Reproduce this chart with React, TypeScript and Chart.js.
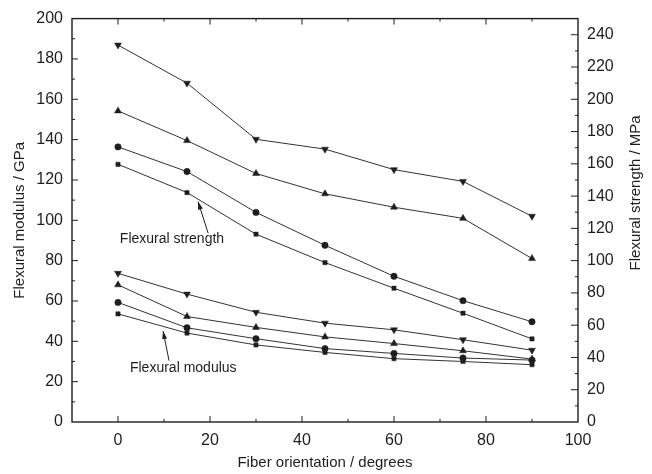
import React, { useEffect, useRef } from 'react';
import { Chart, registerables } from 'chart.js';

Chart.register(...registerables);

// Fiber orientation (degrees)
const orientations = [0, 15, 30, 45, 60, 75, 90];

// Flexural strength (MPa, right axis)
const strengthDown = [233.6, 210.0, 175.2, 169.1, 156.4, 149.1, 127.5];
const strengthUp = [192.8, 174.4, 154.0, 141.4, 133.1, 126.2, 101.3];
const strengthCircle = [170.5, 155.2, 129.9, 109.5, 90.3, 75.2, 62.1];
const strengthSquare = [159.7, 142.2, 116.4, 98.8, 82.9, 67.4, 51.5];

// Flexural modulus (GPa, left axis)
const modulusDown = [73.7, 63.4, 54.4, 49.0, 45.7, 40.8, 35.6];
const modulusUp = [68.0, 52.3, 46.9, 42.2, 38.9, 35.3, 31.2];
const modulusCircle = [59.3, 46.7, 41.3, 36.4, 34.0, 31.7, 30.7];
const modulusSquare = [53.6, 44.1, 38.2, 34.5, 31.4, 30.0, 28.4];

// Tick labels
const xTicks = [0, 20, 40, 60, 80, 100];
const leftTicks = [0, 20, 40, 60, 80, 100, 120, 140, 160, 180, 200];
const rightTicks = [0, 20, 40, 60, 80, 100, 120, 140, 160, 180, 200, 220, 240];

const FONT = '"Liberation Sans", Arial, Helvetica, sans-serif';
const INK = '#1e1e1e';

const toPts = (vals: number[]) => vals.map((v, i) => ({ x: orientations[i], y: v }));

const mk = (label: string, vals: number[], axis: string, style: string, rot = 0, r = 3.5) => ({
  label,
  data: toPts(vals),
  yAxisID: axis,
  borderColor: '#333',
  borderWidth: 1,
  backgroundColor: INK,
  pointBackgroundColor: INK,
  pointBorderColor: INK,
  pointBorderWidth: 0.5,
  pointStyle: style,
  pointRotation: rot,
  pointRadius: r,
  tension: 0,
  fill: false,
});

const frameTicks = {
  id: 'frameTicks',
  afterDraw(chart: any) {
    const { ctx, chartArea: a, scales } = chart;
    const sx = scales.x, sy = scales.y, sy1 = scales.y1;
    const line = (x1: number, y1: number, x2: number, y2: number) => {
      ctx.beginPath();
      ctx.moveTo(x1, y1);
      ctx.lineTo(x2, y2);
      ctx.stroke();
    };
    ctx.save();
    ctx.strokeStyle = INK;
    ctx.lineWidth = 1.4;
    ctx.strokeRect(a.left, a.top, a.right - a.left, a.bottom - a.top);
    ctx.lineWidth = 1;
    for (let v = 0; v < 100; v += 10) {
      const px = sx.getPixelForValue(v);
      const len = v % 20 === 0 ? 6 : 3;
      line(px, a.bottom, px, a.bottom - len);
      line(px, a.top, px, a.top + len);
    }
    for (let v = 10; v < 200; v += 10) {
      const py = sy.getPixelForValue(v);
      const len = v % 20 === 0 ? 6 : 3;
      line(a.left, py, a.left + len, py);
    }
    for (let v = 10; v <= 240; v += 10) {
      const py = sy1.getPixelForValue(v);
      const len = v % 20 === 0 ? 7 : 3;
      line(a.right, py, a.right - len, py);
    }
    // right axis title, reading bottom-to-top
    ctx.fillStyle = INK;
    ctx.font = `15px ${FONT}`;
    ctx.textAlign = 'center';
    ctx.textBaseline = 'middle';
    ctx.translate(636, sy1.getPixelForValue(142));
    ctx.rotate(-Math.PI / 2);
    ctx.fillText('Flexural strength / MPa', 0, 0);
    ctx.restore();
  },
};

const arrow = (ctx: any, x1: number, y1: number, x2: number, y2: number) => {
  ctx.beginPath();
  ctx.moveTo(x1, y1);
  ctx.lineTo(x2, y2);
  ctx.stroke();
  const ang = Math.atan2(y2 - y1, x2 - x1);
  const L = 8, W = 2.5;
  ctx.beginPath();
  ctx.moveTo(x2, y2);
  ctx.lineTo(x2 - L * Math.cos(ang) + W * Math.sin(ang), y2 - L * Math.sin(ang) - W * Math.cos(ang));
  ctx.lineTo(x2 - L * Math.cos(ang) - W * Math.sin(ang), y2 - L * Math.sin(ang) + W * Math.cos(ang));
  ctx.closePath();
  ctx.fill();
};

const annotations = {
  id: 'annotations',
  afterDraw(chart: any) {
    const { ctx, scales } = chart;
    const X = (v: number) => scales.x.getPixelForValue(v);
    const Y = (v: number) => scales.y.getPixelForValue(v);
    ctx.save();
    ctx.fillStyle = INK;
    ctx.strokeStyle = INK;
    ctx.lineWidth = 1;
    ctx.font = `14px ${FONT}`;
    ctx.textAlign = 'left';
    ctx.textBaseline = 'middle';
    ctx.fillText('Flexural strength', X(0.4), Y(90.7));
    ctx.fillText('Flexural modulus', X(2.6), Y(26.5));
    arrow(ctx, X(19.6), Y(93.6), X(17.4), Y(109.3));
    arrow(ctx, X(11.1), Y(30.4), X(9.8), Y(45.1));
    ctx.restore();
  },
};

export default function App() {
  const ref = useRef<HTMLCanvasElement | null>(null);
  useEffect(() => {
    if (!ref.current) return;
    const chart = new Chart(ref.current, {
      type: 'line',
      data: {
        datasets: [
          mk('S1', strengthDown, 'y1', 'triangle', 180, 4),
          mk('S2', strengthUp, 'y1', 'triangle', 0, 4),
          mk('S3', strengthCircle, 'y1', 'circle', 0, 3.2),
          mk('S4', strengthSquare, 'y1', 'rect', 0, 3),
          mk('M1', modulusDown, 'y', 'triangle', 180, 4),
          mk('M2', modulusUp, 'y', 'triangle', 0, 4),
          mk('M3', modulusCircle, 'y', 'circle', 0, 3.2),
          mk('M4', modulusSquare, 'y', 'rect', 0, 3),
        ] as any,
      },
      options: {
        animation: false,
        responsive: false,
        layout: { padding: { top: 14, left: 0, right: 0, bottom: 0 } },
        plugins: { legend: { display: false }, tooltip: { enabled: false } },
        scales: {
          x: {
            type: 'linear',
            min: -10,
            max: 100,
            grid: { display: false, drawTicks: false },
            border: { display: false },
            afterBuildTicks: (s: any) => { s.ticks = xTicks.map((v) => ({ value: v })); },
            afterFit: (s: any) => { s.height = 52; },
            ticks: { color: INK, font: { family: FONT, size: 16 }, padding: 9, maxRotation: 0, autoSkip: false },
            title: { display: true, text: 'Fiber orientation / degrees', color: INK, font: { family: FONT, size: 15 }, padding: { top: 0, bottom: 2 } },
          },
          y: {
            type: 'linear',
            position: 'left',
            min: 0,
            max: 200,
            grid: { display: false, drawTicks: false },
            border: { display: false },
            afterBuildTicks: (s: any) => { s.ticks = leftTicks.map((v) => ({ value: v })); },
            afterFit: (s: any) => { s.width = 72; },
            ticks: { color: INK, font: { family: FONT, size: 16 }, padding: 9, autoSkip: false },
            title: { display: true, text: 'Flexural modulus / GPa', color: INK, font: { family: FONT, size: 15 }, padding: { top: 11, bottom: 0 } },
          },
          y1: {
            type: 'linear',
            position: 'right',
            min: 0,
            max: 250,
            grid: { display: false, drawTicks: false },
            border: { display: false },
            afterBuildTicks: (s: any) => { s.ticks = rightTicks.map((v) => ({ value: v })); },
            afterFit: (s: any) => { s.width = 74; },
            ticks: { color: INK, font: { family: FONT, size: 16 }, padding: 9, autoSkip: false },
            title: { display: false },
          },
        },
      } as any,
      plugins: [frameTicks, annotations],
    });
    return () => chart.destroy();
  }, []);
  return (
    <div style={{ position: 'fixed', left: 0, top: 0, width: 652, height: 474, background: '#fff' }}>
      <canvas ref={ref} width={652} height={474} style={{ display: 'block' }} />
    </div>
  );
}
